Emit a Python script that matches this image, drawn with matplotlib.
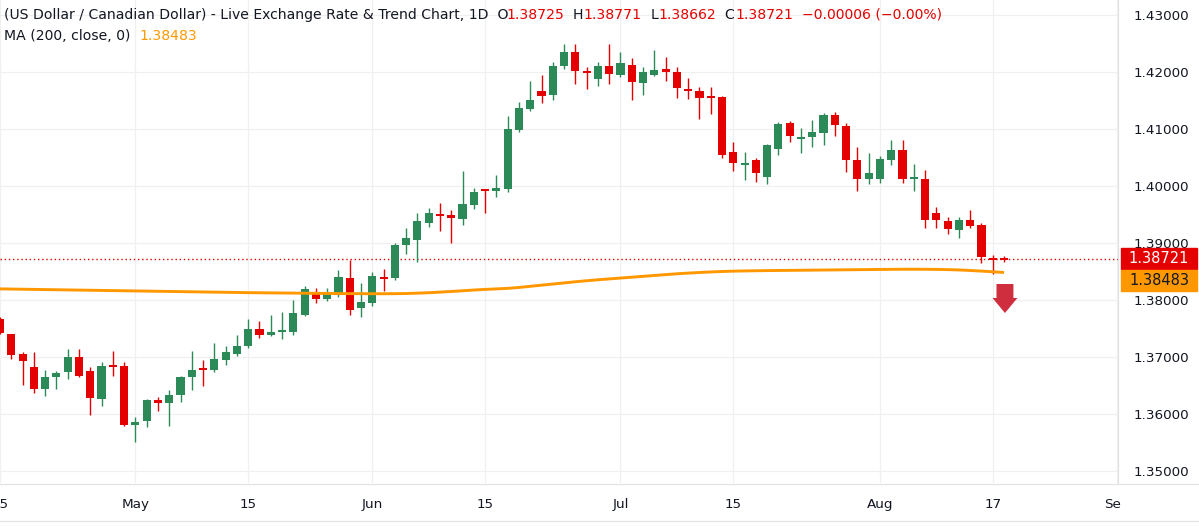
import numpy as np
import pandas as pd
import matplotlib
matplotlib.use('Agg')
import matplotlib.pyplot as plt
from matplotlib.patches import Polygon, Rectangle
from matplotlib.lines import Line2D
from matplotlib.transforms import blended_transform_factory

# daily candles, Apr 15 .. Aug 18 (weekdays)
first_day = '2026-04-15'
opens = [1.37668, 1.37405, 1.37055, 1.36828, 1.36437, 1.36647, 1.36729, 1.37003, 1.36758, 1.36262, 1.36857, 1.36845,
         1.35802, 1.35872, 1.36251, 1.36187, 1.36338, 1.36641, 1.36805, 1.36764, 1.36950, 1.37061, 1.37201, 1.37493,
         1.37394, 1.37460, 1.37446, 1.37737, 1.38105, 1.38023, 1.38094, 1.38380, 1.37854, 1.37942, 1.38398, 1.38380,
         1.38971, 1.39053, 1.39345, 1.39526, 1.39491, 1.39427, 1.39673, 1.39942, 1.39918, 1.39954, 1.40983, 1.41357,
         1.41661, 1.41603, 1.42106, 1.42346, 1.42018, 1.41884, 1.42106, 1.41954, 1.42124, 1.41814, 1.41942, 1.42053,
         1.41999, 1.41705, 1.41667, 1.41579, 1.41562, 1.40600, 1.40392, 1.40462, 1.40152, 1.40643, 1.41100, 1.40836,
         1.40854, 1.40930, 1.41246, 1.41059, 1.40462, 1.40117, 1.40117, 1.40462, 1.40632, 1.40140, 1.40129, 1.39532,
         1.39392, 1.39222, 1.39409, 1.39322, 1.38749, 1.38725]
highs = [1.37700, 1.37410, 1.37079, 1.37096, 1.36770, 1.36746, 1.37143, 1.37143, 1.36816, 1.36915, 1.37108, 1.36904,
         1.35948, 1.36262, 1.36297, 1.36420, 1.36670, 1.37108, 1.36950, 1.37248, 1.37195, 1.37388, 1.37668, 1.37638,
         1.37738, 1.37784, 1.38000, 1.38246, 1.38211, 1.38211, 1.38526, 1.38702, 1.38292, 1.38497, 1.38544, 1.38994,
         1.39257, 1.39520, 1.39608, 1.39708, 1.39579, 1.40263, 1.39971, 1.39945, 1.40199, 1.41229, 1.41474, 1.41843,
         1.41942, 1.42176, 1.42486, 1.42486, 1.42094, 1.42176, 1.42486, 1.42352, 1.42252, 1.42088, 1.42387, 1.42270,
         1.42088, 1.41890, 1.41738, 1.41743, 1.41579, 1.40775, 1.40591, 1.40486, 1.40737, 1.41117, 1.41134, 1.41012,
         1.41164, 1.41275, 1.41304, 1.41105, 1.40690, 1.40585, 1.40532, 1.40807, 1.40807, 1.40386, 1.40287, 1.39638,
         1.39462, 1.39462, 1.39585, 1.39351, 1.38795, 1.38771]
lows = [1.37400, 1.36962, 1.36501, 1.36362, 1.36321, 1.36437, 1.36612, 1.36641, 1.35977, 1.36134, 1.36671, 1.35796,
        1.35504, 1.35773, 1.36047, 1.35784, 1.36204, 1.36426, 1.36484, 1.36729, 1.36851, 1.37020, 1.37155, 1.37329,
        1.37370, 1.37324, 1.37392, 1.37719, 1.37953, 1.37982, 1.38047, 1.37743, 1.37708, 1.37901, 1.38164, 1.38351,
        1.38813, 1.38672, 1.39287, 1.39205, 1.39006, 1.39322, 1.39602, 1.39520, 1.39813, 1.39901, 1.40948, 1.41316,
        1.41451, 1.41515, 1.42059, 1.41784, 1.41708, 1.41761, 1.41784, 1.41919, 1.41510, 1.41603, 1.41931, 1.41843,
        1.41550, 1.41533, 1.41182, 1.41258, 1.40491, 1.40255, 1.40105, 1.40064, 1.40029, 1.40538, 1.40766, 1.40573,
        1.40678, 1.40719, 1.40871, 1.40240, 1.39918, 1.40029, 1.40053, 1.40369, 1.40053, 1.39907, 1.39257, 1.39269,
        1.39152, 1.39082, 1.39269, 1.38643, 1.38456, 1.38662]
closes = [1.37417, 1.37038, 1.36927, 1.36437, 1.36647, 1.36723, 1.37003, 1.36665, 1.36274, 1.36845, 1.36850, 1.35808,
          1.35866, 1.36251, 1.36187, 1.36332, 1.36653, 1.36764, 1.36770, 1.36968, 1.37079, 1.37195, 1.37487, 1.37394,
          1.37446, 1.37475, 1.37778, 1.38193, 1.38023, 1.38129, 1.38398, 1.37830, 1.37965, 1.38421, 1.38385, 1.38965,
          1.39088, 1.39386, 1.39526, 1.39497, 1.39439, 1.39684, 1.39895, 1.39924, 1.39959, 1.40995, 1.41369, 1.41509,
          1.41574, 1.42106, 1.42346, 1.42018, 1.41995, 1.42112, 1.41960, 1.42153, 1.41825, 1.42001, 1.42036, 1.42007,
          1.41726, 1.41690, 1.41550, 1.41560, 1.40539, 1.40412, 1.40427, 1.40222, 1.40714, 1.41088, 1.40871, 1.40854,
          1.40953, 1.41252, 1.41070, 1.40462, 1.40117, 1.40234, 1.40474, 1.40632, 1.40117, 1.40150, 1.39398, 1.39398,
          1.39240, 1.39404, 1.39292, 1.38749, 1.38714, 1.38721]
ma200 = [1.38195, 1.38192, 1.38189, 1.38186, 1.38183, 1.38180, 1.38177, 1.38174, 1.38171, 1.38168, 1.38165, 1.38162,
         1.38159, 1.38156, 1.38153, 1.38150, 1.38147, 1.38144, 1.38141, 1.38138, 1.38135, 1.38132, 1.38129, 1.38127,
         1.38125, 1.38123, 1.38121, 1.38119, 1.38117, 1.38115, 1.38113, 1.38112, 1.38111, 1.38110, 1.38110, 1.38111,
         1.38114, 1.38120, 1.38128, 1.38138, 1.38150, 1.38162, 1.38175, 1.38186, 1.38195, 1.38204, 1.38220, 1.38240,
         1.38260, 1.38280, 1.38300, 1.38320, 1.38338, 1.38355, 1.38370, 1.38385, 1.38400, 1.38415, 1.38430, 1.38445,
         1.38460, 1.38472, 1.38483, 1.38492, 1.38500, 1.38506, 1.38510, 1.38513, 1.38516, 1.38518, 1.38520, 1.38522,
         1.38524, 1.38526, 1.38528, 1.38530, 1.38532, 1.38534, 1.38536, 1.38538, 1.38540, 1.38540, 1.38539, 1.38537,
         1.38533, 1.38527, 1.38518, 1.38507, 1.38495, 1.38483]

tick_dates = ['2026-04-15', '2026-05-01', '2026-05-15', '2026-06-01', '2026-06-15',
              '2026-07-01', '2026-07-15', '2026-08-03', '2026-08-17', '2026-09-01']
tick_labels = ['15', 'May', '15', 'Jun', '15', 'Jul', '15', 'Aug', '17', 'Sep']
price_ticks = [1.35, 1.36, 1.37, 1.38, 1.39, 1.40, 1.41, 1.42, 1.43]
last_close = 1.38721
last_ma = 1.38483
title = '(US Dollar / Canadian Dollar) - Live Exchange Rate & Trend Chart, 1D'
ohlc_text = ['1.38725', '1.38771', '1.38662', '1.38721']
change_text = '\u22120.00006 (\u22120.00%)'

GREEN = '#2B8A57'
RED = '#E50000'
ORANGE = '#FF9800'
DARK = '#131722'
GRID = '#F0F0F0'
EDGE = '#E3E3E3'

days = pd.bdate_range(first_day, '2026-09-04')
pos = {d.strftime('%Y-%m-%d'): k for k, d in enumerate(days)}
xs = np.arange(len(opens))
o = np.array(opens); h = np.array(highs); l = np.array(lows); c = np.array(closes)
up = c >= o
colors = np.where(up, GREEN, RED)

W, H = 1199, 526
fig = plt.figure(figsize=(W / 100, H / 100), dpi=100)
ax = fig.add_axes([0, 43 / H, 1118 / W, 483 / H])

ax.vlines(xs, l, h, colors=colors, lw=1.0, zorder=3)
body_lo = np.minimum(o, c)
body_h = np.maximum(np.abs(c - o), 0.00035)
ax.bar(xs, body_h, bottom=body_lo - np.where(np.abs(c - o) < 0.00035, 0.000175, 0), width=0.72,
       color=colors, lw=0, zorder=4)

ax.plot(xs, ma200, color=ORANGE, lw=2.1, zorder=5, solid_capstyle='butt')
ax.axhline(last_close, color=RED, lw=1.0, ls=(0, (1, 2)), zorder=2)

ax.set_xlim(0.34, 99.1)
ax.set_ylim(1.347895, 1.432632)

ax.set_xticks([pos[d] for d in tick_dates])
ax.set_xticklabels(tick_labels)
ax.set_yticks(price_ticks)
ax.set_yticklabels(['%.5f' % p for p in price_ticks])
ax.yaxis.tick_right()
ax.tick_params(axis='y', length=0, pad=11, labelsize=9.7, labelcolor=DARK)
ax.tick_params(axis='x', length=0, pad=11, labelsize=9.7, labelcolor=DARK)
ax.grid(True, color=GRID, lw=0.9, zorder=0)
for s in ['top', 'left', 'bottom']:
    ax.spines[s].set_visible(False)
ax.spines['right'].set_color(EDGE)
ax.spines['right'].set_linewidth(0.9)

# down arrow under last candle
px_x = 1 / 11.32
px_y = 1 / 5700
cx = 89.08
top = 1.37 + (357 - 284) * px_y
mid = 1.37 + (357 - 298) * px_y
tip = 1.37 + (357 - 313) * px_y
arrow = [(cx - 8.5 * px_x, top), (cx + 8.5 * px_x, top), (cx + 8.5 * px_x, mid), (cx + 12.5 * px_x, mid),
         (cx, tip), (cx - 12.5 * px_x, mid), (cx - 8.5 * px_x, mid)]
ax.add_patch(Polygon(arrow, closed=True, color='#CF2E3E', lw=0, zorder=6))

# price boxes on the right scale
bt = blended_transform_factory(fig.transFigure, ax.transData)
box_h = 21 * px_y
x0 = 1121 / W
bw = 76 / W
ax.add_patch(Rectangle((x0, last_close - box_h / 2), bw, box_h, transform=bt, color=RED, clip_on=False, zorder=10))
ax.text(x0 + bw / 2, last_close, '%.5f' % last_close, transform=bt, color='white', fontsize=10.5,
        ha='center', va='center', clip_on=False, zorder=11)
ma_c = last_close - box_h - 1 * px_y
ax.add_patch(Rectangle((x0, ma_c - box_h / 2), bw, box_h, transform=bt, color=ORANGE, clip_on=False, zorder=10))
ax.text(x0 + bw / 2, ma_c, '%.5f' % last_ma, transform=bt, color=DARK, fontsize=10.5,
        ha='center', va='center', clip_on=False, zorder=11)

# hide the part of the last date label that runs past the plot, then the axis rules
fig.add_artist(Rectangle((1121 / W, 0), 1 - 1121 / W, 42 / H, transform=fig.transFigure,
                         color='white', lw=0, zorder=20))
for yy in [1 - 483.5 / H, 1 - 520.5 / H]:
    fig.add_artist(Line2D([0, 1], [yy, yy], transform=fig.transFigure, color=EDGE, lw=0.9, zorder=21))

# legend lines at top left
fs = 10.1
t = fig.text(4 / W, 1 - 15 / H, title + '  O', color=DARK, fontsize=fs, va='center', ha='left')
pieces = [(ohlc_text[0], RED, -2), ('  H', DARK, 0), (ohlc_text[1], RED, 0), ('  L', DARK, 0),
          (ohlc_text[2], RED, 0), ('  C', DARK, 0), (ohlc_text[3], RED, 0), ('  ' + change_text, RED, 0)]
for txt, col, dx in pieces:
    t = ax.annotate(txt, xy=(1, 0), xycoords=t, xytext=(dx, 0), textcoords='offset pixels',
                    va='bottom', ha='left', color=col, fontsize=fs, annotation_clip=False)
t = fig.text(4 / W, 1 - 36 / H, 'MA (200, close, 0)  ', color=DARK, fontsize=fs, va='center', ha='left')
ax.annotate('%.5f' % last_ma, xy=(1, 0), xycoords=t, va='bottom', ha='left', color=ORANGE, fontsize=fs,
            annotation_clip=False)

plt.savefig('out.png', dpi=100)
